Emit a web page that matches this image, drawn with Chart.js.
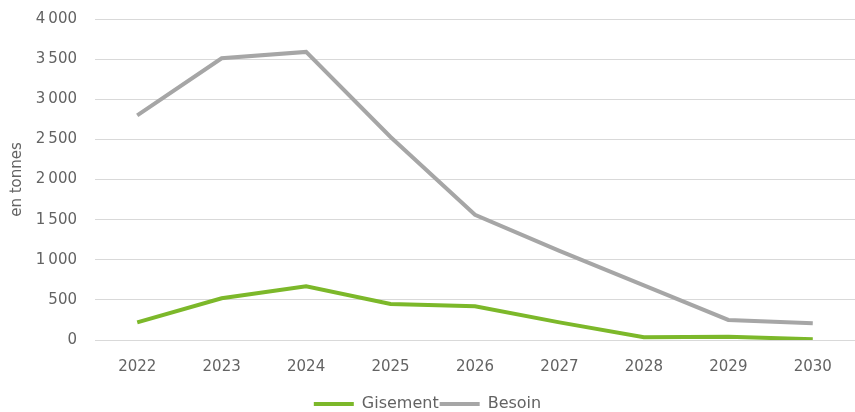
<!DOCTYPE html>
<html>
<head>
<meta charset="utf-8">
<script src="https://cdn.jsdelivr.net/npm/chart.js@4"></script>
<style>
  html, body { margin: 0; padding: 0; background: #fff; }
  #wrap { width: 855px; height: 412px; position: relative; }
</style>
</head>
<body>
<div id="wrap"><canvas id="chart"></canvas></div>
<script>
const years = ['2022', '2023', '2024', '2025', '2026', '2027', '2028', '2029', '2030'];
const gisement = [220, 520, 670, 450, 420, 220, 35, 40, 10];
const besoin = [2800, 3510, 3590, 2530, 1560, 1110, 680, 250, 210];
const yTicks = [0, 500, 1000, 1500, 2000, 2500, 3000, 3500, 4000];

const green = '#7cb82a';
const grey = '#a6a6a6';
const textColor = '#636363';
const fontFamily = 'DejaVu Sans';

function formatNumber(v) {
    return String(v).replace(/\B(?=(\d{3})+(?!\d))/g, '\u202f');
}

// put the legend near the bottom edge
const legendShift = {
    id: 'legendShift',
    afterLayout(chart) {
        const lg = chart.legend;
        lg.top = 404 - 1 - 8;
        lg.bottom = lg.top + lg.height;
    }
};

new Chart(document.getElementById('chart'), {
    type: 'line',
    data: {
        labels: years,
        datasets: [
            { label: 'Gisement', data: gisement, borderColor: green, backgroundColor: green, borderWidth: 4, pointRadius: 0, tension: 0 },
            { label: 'Besoin', data: besoin, borderColor: grey, backgroundColor: grey, borderWidth: 4, pointRadius: 0, tension: 0 }
        ]
    },
    plugins: [legendShift],
    options: {
        responsive: true,
        maintainAspectRatio: false,
        animation: false,
        layout: { padding: { top: 19, right: 0, left: 0, bottom: 0 } },
        plugins: {
            legend: {
                position: 'bottom',
                labels: {
                    boxWidth: 40,
                    boxHeight: 4,
                    padding: 1,
                    color: textColor,
                    font: { family: fontFamily, size: 16 },
                    generateLabels: chart => Chart.defaults.plugins.legend.labels.generateLabels(chart)
                        .map(item => Object.assign(item, { lineWidth: 0 }))
                }
            },
            tooltip: { enabled: false }
        },
        scales: {
            x: {
                offset: true,
                grid: { display: false },
                border: { display: false },
                ticks: { color: textColor, font: { family: fontFamily, size: 15 }, padding: 10 },
                afterFit: axis => {
                    const lg = axis.chart.legend;
                    axis.height = 412 - 340 - (lg && lg.height ? lg.height : 0);
                }
            },
            y: {
                min: 0,
                max: 4000,
                afterBuildTicks: axis => { axis.ticks = yTicks.map(v => ({ value: v })); },
                afterFit: axis => {
                    axis.width = 95;
                    axis.paddingTop = 0;
                    axis.paddingBottom = 0;
                },
                grid: { color: '#d9d9d9', lineWidth: 1, drawTicks: false },
                border: { display: false },
                ticks: {
                    color: textColor,
                    font: { family: fontFamily, size: 15 },
                    padding: 18,
                    callback: v => formatNumber(v)
                },
                title: {
                    display: true,
                    text: 'en tonnes',
                    color: textColor,
                    font: { family: fontFamily, size: 15 },
                    padding: { top: 8, bottom: 6 }
                }
            }
        }
    }
});
</script>
</body>
</html>
